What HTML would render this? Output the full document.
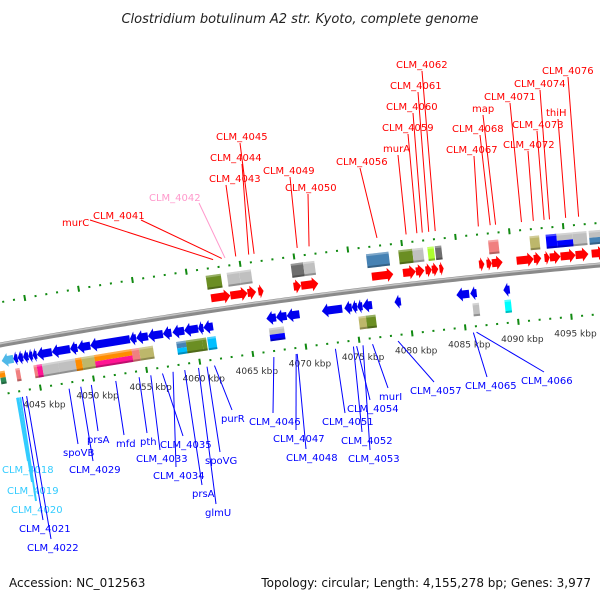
<!DOCTYPE html>
<html><head><meta charset="utf-8"><style>
html,body{margin:0;padding:0;background:#fff;}
svg{display:block;font-family:"DejaVu Sans","Liberation Sans",sans-serif;}
</style></head><body>
<svg id="chart" width="600" height="600" viewBox="0 0 600 600" xmlns="http://www.w3.org/2000/svg">
<text x="300" y="23" text-anchor="middle" font-size="13" font-style="italic" fill="#222">Clostridium botulinum A2 str. Kyoto, complete genome</text>
<text x="9" y="587" font-size="12" fill="#111">Accession: NC_012563</text>
<text x="591" y="587" text-anchor="end" font-size="12" fill="#111">Topology: circular; Length: 4,155,278 bp; Genes: 3,977</text>
<g id="layer"></g>
</svg>
<script>
// ---- data (kbp) ----
const fwdArrowStart=[4061.9,4063.7,4065.3,4066.3,4069.6,4070.3,4076.9,4079.8,4081.0,4081.9,4082.5,4083.2,4086.9,4087.6,4088.1,4090.4,4092.0,4093.0,4093.5,4094.5,4095.9,4097.4];
const fwdArrowEnd  =[4063.7,4065.3,4066.1,4066.8,4070.3,4071.9,4078.9,4081.0,4081.8,4082.5,4083.1,4083.6,4087.4,4088.1,4089.1,4092.0,4092.7,4093.5,4094.5,4095.9,4097.1,4098.6];
const fwdBoxStart=[4061.7,4063.65,4064.8,4069.6,4070.75,4076.6,4079.6,4080.9,4082.3,4083.0,4087.95,4091.8,4093.3,4094.3,4095.8,4097.3];
const fwdBoxEnd  =[4063.1,4064.8,4065.9,4070.75,4071.8,4078.7,4080.9,4081.9,4082.9,4083.6,4088.9,4092.7,4094.3,4095.8,4097.1,4098.7];
const fwdBoxColor=["#6b8e23","#c0c0c0","#c0c0c0","#6e6e6e","#c0c0c0","#4682b4","#6b8e23","#c0c0c0","#adff2f","#6e6e6e","#f08080","#bdb76b","#0000ff","#c0c0c0","#c0c0c0","#c0c0c0"];
const fwdBoxColor2=["","","","","","","","","","","","","","#0000ff","","#4682b4"];
const revArrowStart=[4041.9,4043.0,4043.4,4043.9,4044.4,4044.8,4045.2,4046.6,4048.3,4049.0,4050.2,4053.9,4054.5,4055.6,4057.0,4057.9,4059.0,4060.3,4060.8,4066.7,4067.6,4068.6,4071.9,4074.0,4074.7,4075.2,4075.7,4078.7,4084.5,4085.8,4088.9];
const revArrowEnd  =[4043.0,4043.4,4043.9,4044.4,4044.8,4045.2,4046.6,4048.3,4049.0,4050.2,4053.9,4054.5,4055.6,4057.0,4057.8,4059.0,4060.3,4060.8,4061.7,4067.6,4068.6,4069.8,4073.8,4074.7,4075.2,4075.7,4076.6,4079.3,4085.7,4086.4,4089.5];
const revArrowColor=["#4fb8e8"];
const revBoxStart=[4041.5,4043.0,4044.7,4045.0,4045.5,4047.0,4048.6,4049.2,4050.4,4053.9,4054.6,4058.1,4059.0,4060.5,4061.0,4066.8,4075.2,4075.9,4085.9,4088.9];
const revBoxEnd  =[4042.0,4043.4,4045.0,4045.5,4047.0,4048.6,4049.2,4050.4,4053.9,4054.6,4055.9,4059.0,4060.5,4060.9,4061.8,4068.2,4075.9,4076.8,4086.5,4089.5];
const revBoxColor=["#ff8c00","#f08080","#f08080","#ff1493","#c0c0c0","#c0c0c0","#ff8c00","#bdb76b","#ff8c00","#f08080","#bdb76b","#4682b4","#6b8e23","#6b8e23","#00bfff","#c0c0c0","#bdb76b","#6b8e23","#c0c0c0","#00ffff"];
const revBoxColor2=["#2e8b57","","","","","","","","#ff1493","","","#00bfff","","","","#0000ff","","","",""];
const tickStart=4040, tickEnd=4099, majorEvery=5;
const topLabels=["murC","CLM_4041","CLM_4042","CLM_4043","CLM_4044","CLM_4045","CLM_4049","CLM_4050","CLM_4056","murA","CLM_4059","CLM_4060","CLM_4061","CLM_4062","CLM_4067","CLM_4068","map","CLM_4071","CLM_4072","CLM_4073","CLM_4074","thiH","CLM_4076"];
const topLabelPos=[4062.6,4063.4,4063.7,4064.7,4065.9,4066.4,4070.4,4071.5,4077.8,4080.5,4081.5,4082.0,4082.6,4083.2,4087.2,4088.3,4088.8,4091.2,4092.3,4093.3,4093.8,4095.3,4096.5];
const topLayout=[[62,222,90,220],[93,215,141,220],[149,197,199,203],[209,178,226,185],[210,157,242,164],[216,136,240,143],[263,170,290,177],[285,187,308,194],[336,161,360,168],[383,148,398,155],[382,127,408,134],[386,106,413,113],[390,85,418,92],[396,64,422,71],[446,149,474,156],[452,128,480,135],[472,108,483,115],[484,96,510,103],[503,144,528,151],[512,124,537,131],[514,83,540,90],[546,112,558,119],[542,70,568,77]];
const botLabels=["CLM_4018","CLM_4019","CLM_4020","CLM_4021","CLM_4022","spoVB","CLM_4029","prsA","mfd","pth","CLM_4033","CLM_4035","CLM_4034","spoVG","prsA","glmU","purR","CLM_4046","CLM_4047","CLM_4048","CLM_4051","CLM_4054","CLM_4052","CLM_4053","murI","CLM_4057","CLM_4065","CLM_4066"];
const botLabelPos=[4042.7,4042.8,4043.0,4043.2,4043.6,4047.6,4048.7,4049.7,4052.0,4054.2,4055.3,4056.4,4057.4,4060.6,4058.5,4059.8,4061.3,4066.9,4069.0,4069.1,4072.7,4074.7,4074.4,4075.3,4076.2,4078.6,4085.7,4086.0];
const botLayout=[[2,469,28,461],[7,490,32,482],[11,509,36,501],[19,528,43,520],[27,547,51,539],[63,452,78,444],[69,469,93,461],[87,439,98,431],[116,443,124,435],[140,441,147,433],[136,458,160,450],[160,444,183,436],[153,475,176,467],[205,460,220,452],[192,493,202,485],[205,512,216,504],[221,418,232,410],[249,421,273,413],[273,438,296,430],[286,457,306,449],[322,421,345,413],[347,408,370,400],[341,440,362,432],[348,458,370,450],[379,396,388,388],[410,390,434,382],[465,385,487,377],[521,380,544,372]];
// ---- geometry ----
const NS="http://www.w3.org/2000/svg";
const layer=document.getElementById('layer');
function xk(k){return 32+(k-4045)*10.7;}
function yb(x){return 345-0.18*x+7.78e-5*x*x;}
function slope(x){return -0.18+1.556e-4*x;}
function pt(k,off){const x=xk(k),s=slope(x),n=Math.sqrt(1+s*s);return [x-s*off/n,yb(x)+off/n];}
function mk(tag,attrs,parent){const e=document.createElementNS(NS,tag);for(const a in attrs)e.setAttribute(a,attrs[a]);(parent||layer).appendChild(e);return e;}
function frame(s,e){const cx=(xk(s)+xk(e))/2;const ang=Math.atan(slope(cx))*180/Math.PI;const w=(xk(e)-xk(s))/Math.cos(Math.atan(slope(cx)));const g=mk('g',{transform:`translate(${cx},${yb(cx)}) rotate(${ang})`});return [g,w];}
// backbone
let d="";for(let x=-10;x<=610;x+=5){d+=(x==-10?"M":"L")+x+","+yb(x).toFixed(2);}
const bb=mk('path',{d:d,stroke:"#8a8a8a","stroke-width":5,fill:"none"});


const bb2=mk('path',{d:d,stroke:"#c4c4c4","stroke-width":1.5,fill:"none",transform:"translate(0,-1.3)"});


// rulers
[-42,49].forEach(function(off,ri){
 for(let k=tickStart;k<=tickEnd;k++){
  const major=(k%majorEvery===0);
  const [g]=frame(k,k);
  const h=major?6:2;
  const r=mk('rect',{x:-1,y:off-h/2,width:2,height:h,fill:"#118a11"},g);
  
  
  if(ri==1&&major&&k>=4045&&k<=4095){
   const p=pt(k,off);
   const t=mk('text',{x:p[0]+4,y:p[1]+20,"text-anchor":"middle","font-size":"9",fill:"#333"});
   t.textContent=k+" kbp";
   
   
  }
 }
});
function box(s,e,o1,o2,c,c2,name){
 const [g,w]=frame(s,e);
 
 
 if(c2){
  mk('rect',{x:-w/2,y:o1,width:w,height:(o2-o1)/2,fill:c},g);
  mk('rect',{x:-w/2,y:(o1+o2)/2,width:w,height:(o2-o1)/2,fill:c2},g);
 } else mk('rect',{x:-w/2,y:o1,width:w,height:o2-o1,fill:c},g);
 mk('rect',{x:-w/2,y:o2-2,width:w,height:2,fill:"rgba(0,0,0,0.25)"},g);
 mk('rect',{x:-w/2,y:o1,width:w,height:2,fill:"rgba(255,255,255,0.3)"},g);
}
function arrow(s,e,o1,o2,c,dir,name){
 const [g,w]=frame(s,e);
 
 
 const hl=Math.min(6,w*0.7),m=(o1+o2)/2,a=-w/2,b=w/2,i1=o1+3,i2=o2-3;
 let pts;
 if(dir>0) pts=[[a,i1],[b-hl,i1],[b-hl,o1],[b,m],[b-hl,o2],[b-hl,i2],[a,i2]];
 else pts=[[b,i1],[a+hl,i1],[a+hl,o1],[a,m],[a+hl,o2],[a+hl,i2],[b,i2]];
 mk('polygon',{points:pts.map(p=>p.join(",")).join(" "),fill:c},g);
}
for(let i=0;i<fwdBoxStart.length;i++) box(fwdBoxStart[i],fwdBoxEnd[i],-35,-21,fwdBoxColor[i],fwdBoxColor2[i],'forward-feature-box');
for(let i=0;i<fwdArrowStart.length;i++) arrow(fwdArrowStart[i],fwdArrowEnd[i],-19,-5,"#ff0000",1,'forward-gene-arrow');
for(let i=0;i<revArrowStart.length;i++) arrow(revArrowStart[i],revArrowEnd[i],9,23,revArrowColor[i]||"#0000ee",-1,'reverse-gene-arrow');
for(let i=0;i<revBoxStart.length;i++) box(revBoxStart[i],revBoxEnd[i],26,39,revBoxColor[i],revBoxColor2[i],'reverse-feature-box');
// labels
topLabels.forEach(function(txt,i){
 const L=topLayout[i],p=pt(topLabelPos[i],-50);
 const col=txt==="CLM_4042"?"#ff99cc":"#ff0000";
 const ln=mk('line',{x1:p[0],y1:p[1],x2:L[2],y2:L[3],stroke:col,"stroke-width":1});
 
 
 const t=mk('text',{x:L[0],y:L[1]+4,"font-size":"10",fill:col});
 t.textContent=txt;
 
 
});
botLabels.forEach(function(txt,i){
 const L=botLayout[i],p=pt(botLabelPos[i],55);
 const cyan=i<3;
 const col=cyan?"#33ccff":"#0000ff";
 const ln=mk('line',{x1:p[0],y1:p[1],x2:L[2],y2:L[3],stroke:col,"stroke-width":cyan?2:1});
 
 
 const t=mk('text',{x:L[0],y:L[1]+4,"font-size":"10",fill:col});
 t.textContent=txt;
 
 
});
</script>
</body></html>
